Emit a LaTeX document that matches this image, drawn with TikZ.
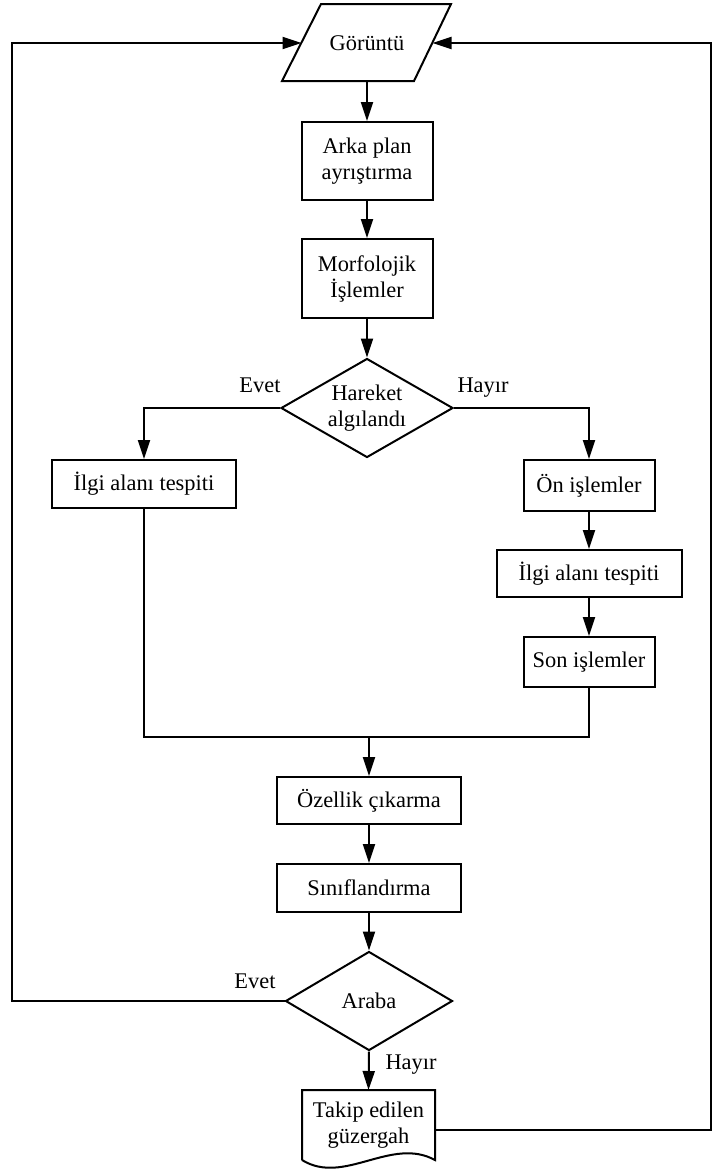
\documentclass[tikz,border=0pt]{standalone}
\usepackage{fontspec}
\setmainfont{Liberation Serif}
\usetikzlibrary{shapes.geometric,arrows.meta}
\begin{document}
\begin{tikzpicture}[x=1pt,y=-1pt,
  line width=2pt,
  font=\fontsize{22.4}{26}\selectfont,
  arr/.style={-{Triangle[length=19pt,width=12pt]}},
  box/.style={draw, rectangle, inner sep=0pt, align=center},
  dec/.style={draw, diamond, inner sep=0pt, aspect=1.7, align=center},
  lbl/.style={inner sep=0pt, anchor=base}]

\useasboundingbox (0,0) rectangle (712,1171);

% input parallelogram
\coordinate (pBL) at (282,81);
\coordinate (pBR) at (414,81);
\coordinate (pTR) at (451,4);
\coordinate (pTL) at (321,4);
\draw (pBL) -- (pTL) -- (pTR) -- (pBR) -- cycle;
\node (img) at (367,43) {Görüntü};
\coordinate (imgL) at (301.5,43);
\coordinate (imgR) at (432.5,43);
\coordinate (imgB) at (367,81);

% main column
\node[box, minimum width=131pt, minimum height=78pt] (arka) at (367,161) {Arka plan\\ayrıştırma};
\node[box, minimum width=131pt, minimum height=79pt] (morf) at (367,278.5) {Morfolojik\\İşlemler};
\node[dec, minimum width=172pt, minimum height=99pt] (hd) at (367,408) {Hareket\\algılandı};

% left branch
\node[box, minimum width=184pt, minimum height=48pt] (ilgiL) at (144,484) {İlgi alanı tespiti};

% right branch
\node[box, minimum width=131pt, minimum height=51pt] (on) at (589,485.5) {Ön işlemler};
\node[box, minimum width=185pt, minimum height=47pt] (ilgiR) at (589,573.5) {İlgi alanı tespiti};
\node[box, minimum width=131pt, minimum height=50pt] (son) at (589,662) {Son işlemler};

% lower column
\node[box, minimum width=184pt, minimum height=47pt] (ozel) at (369,800.5) {Özellik çıkarma};
\node[box, minimum width=184pt, minimum height=48pt] (sinif) at (369,888) {Sınıflandırma};
\node[dec, minimum width=167pt, minimum height=99pt] (araba) at (369,1001) {Araba};

% document shape
\node[inner sep=0pt, minimum width=131pt, minimum height=68pt, align=center] (takip) at (368.5,1125) {Takip edilen\\güzergah};
\draw (takip.south west) -- (takip.north west) -- (takip.north east) -- (takip.south east)
  .. controls +(-44,-24) and +(42,26) .. (takip.south west);

% labels
\node[lbl] (e1) at (260,392) {Evet};
\node[lbl] (h1) at (483,392) {Hayır};
\node[lbl] (e2) at (255,988) {Evet};
\node[lbl] (h2) at (411,1069) {Hayır};

% connectors
\draw[arr] (imgB) -- (arka.north);
\draw[arr] (arka.south) -- (morf.north);
\draw[arr] (morf.south) -- (hd.north);
\draw[arr] (hd.west) -| (ilgiL.north);
\draw[arr] (hd.east) -| (on.north);
\draw[arr] (on.south) -- (ilgiR.north);
\draw[arr] (ilgiR.south) -- (son.north);
\coordinate (mrg) at (369,737);
\draw (ilgiL.south) |- (mrg) -| (son.south);
\draw[arr] (mrg) -- (ozel.north);
\draw[arr] (ozel.south) -- (sinif.north);
\draw[arr] (sinif.south) -- (araba.north);
\draw[arr] (araba.south) -- (takip.north);

% feedback loops
\coordinate (lb) at (12,1001);
\coordinate (lt) at (12,43);
\draw[arr] (araba.west) -- (lb) -- (lt) -- (imgL);
\coordinate (rb) at (711,1130);
\coordinate (rt) at (711,43);
\draw[arr] ([yshift=-5pt]takip.east) -- (rb) -- (rt) -- (imgR);
\end{tikzpicture}
\end{document}
